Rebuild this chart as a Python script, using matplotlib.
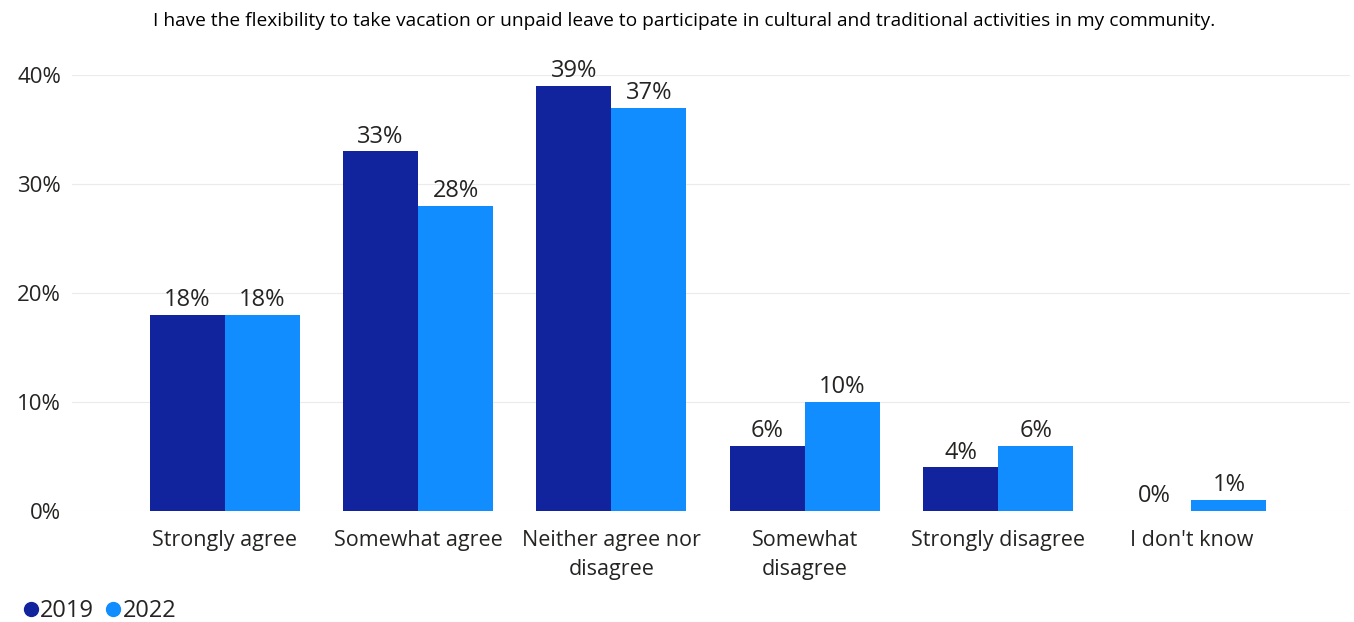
import matplotlib
matplotlib.use("Agg")
import matplotlib.pyplot as plt
from matplotlib.lines import Line2D
import numpy as np

categories = ["Strongly agree", "Somewhat agree", "Neither agree nor\ndisagree",
              "Somewhat\ndisagree", "Strongly disagree", "I don't know"]
values_2019 = [18, 33, 39, 6, 4, 0]
values_2022 = [18, 28, 37, 10, 6, 1]
series_names = ["2019", "2022"]
yticks = [0, 10, 20, 30, 40]
title = "I have the flexibility to take vacation or unpaid leave to participate in cultural and traditional activities in my community."

c2019 = "#12239E"
c2022 = "#118DFF"
txt = "#252423"

plt.rcParams['font.family'] = ['Open Sans', 'DejaVu Sans']

fig = plt.figure(figsize=(13.54, 6.22), dpi=100)
ax = fig.add_axes([72/1354, 1-511/622, 1278/1354, (511-75)/622])

x = np.arange(len(categories))
w = 0.388
b1 = ax.bar(x - w/2, values_2019, w, color=c2019, zorder=3)
b2 = ax.bar(x + w/2, values_2022, w, color=c2022, zorder=3)

for bars, vals in ((b1, values_2019), (b2, values_2022)):
    for rect, v in zip(bars, vals):
        ax.annotate(f"{v}%", (rect.get_x() + rect.get_width()/2, v),
                    xytext=(0, 2), textcoords="offset points",
                    ha="center", va="bottom", fontsize=17, color=txt,
                    annotation_clip=False)

ax.set_xlim(-0.79, 5.82)
ax.set_ylim(0, 40)
ax.set_yticks(yticks)
ax.set_yticklabels([f"{t}%" for t in yticks], fontsize=16, color=txt)
ax.set_xticks(x)
ax.set_xticklabels(categories, fontsize=15.5, color=txt, linespacing=1.45)
ax.tick_params(axis="both", length=0)
ax.tick_params(axis="x", pad=14)
ax.tick_params(axis="y", pad=8)
ax.grid(axis="y", color="#ebebeb", linewidth=0.8, zorder=0)
for s in ax.spines.values():
    s.set_visible(False)

fig.text(0.5 * (152 + 1216) / 1354, 1 - 21/622, title, ha="center", va="center",
         fontsize=13.8, color="#000000")

handles = [Line2D([], [], marker="o", linestyle="", color=c2019, markersize=10),
           Line2D([], [], marker="o", linestyle="", color=c2022, markersize=10)]
fig.legend(handles, series_names, loc="lower left", bbox_to_anchor=(0.0, -0.028),
           ncol=2, frameon=False, fontsize=17, handletextpad=-0.2,
           columnspacing=0.2, handlelength=1.2, labelcolor=txt,
           borderaxespad=0.3)

fig.savefig("out.png", dpi=100, facecolor="white")
